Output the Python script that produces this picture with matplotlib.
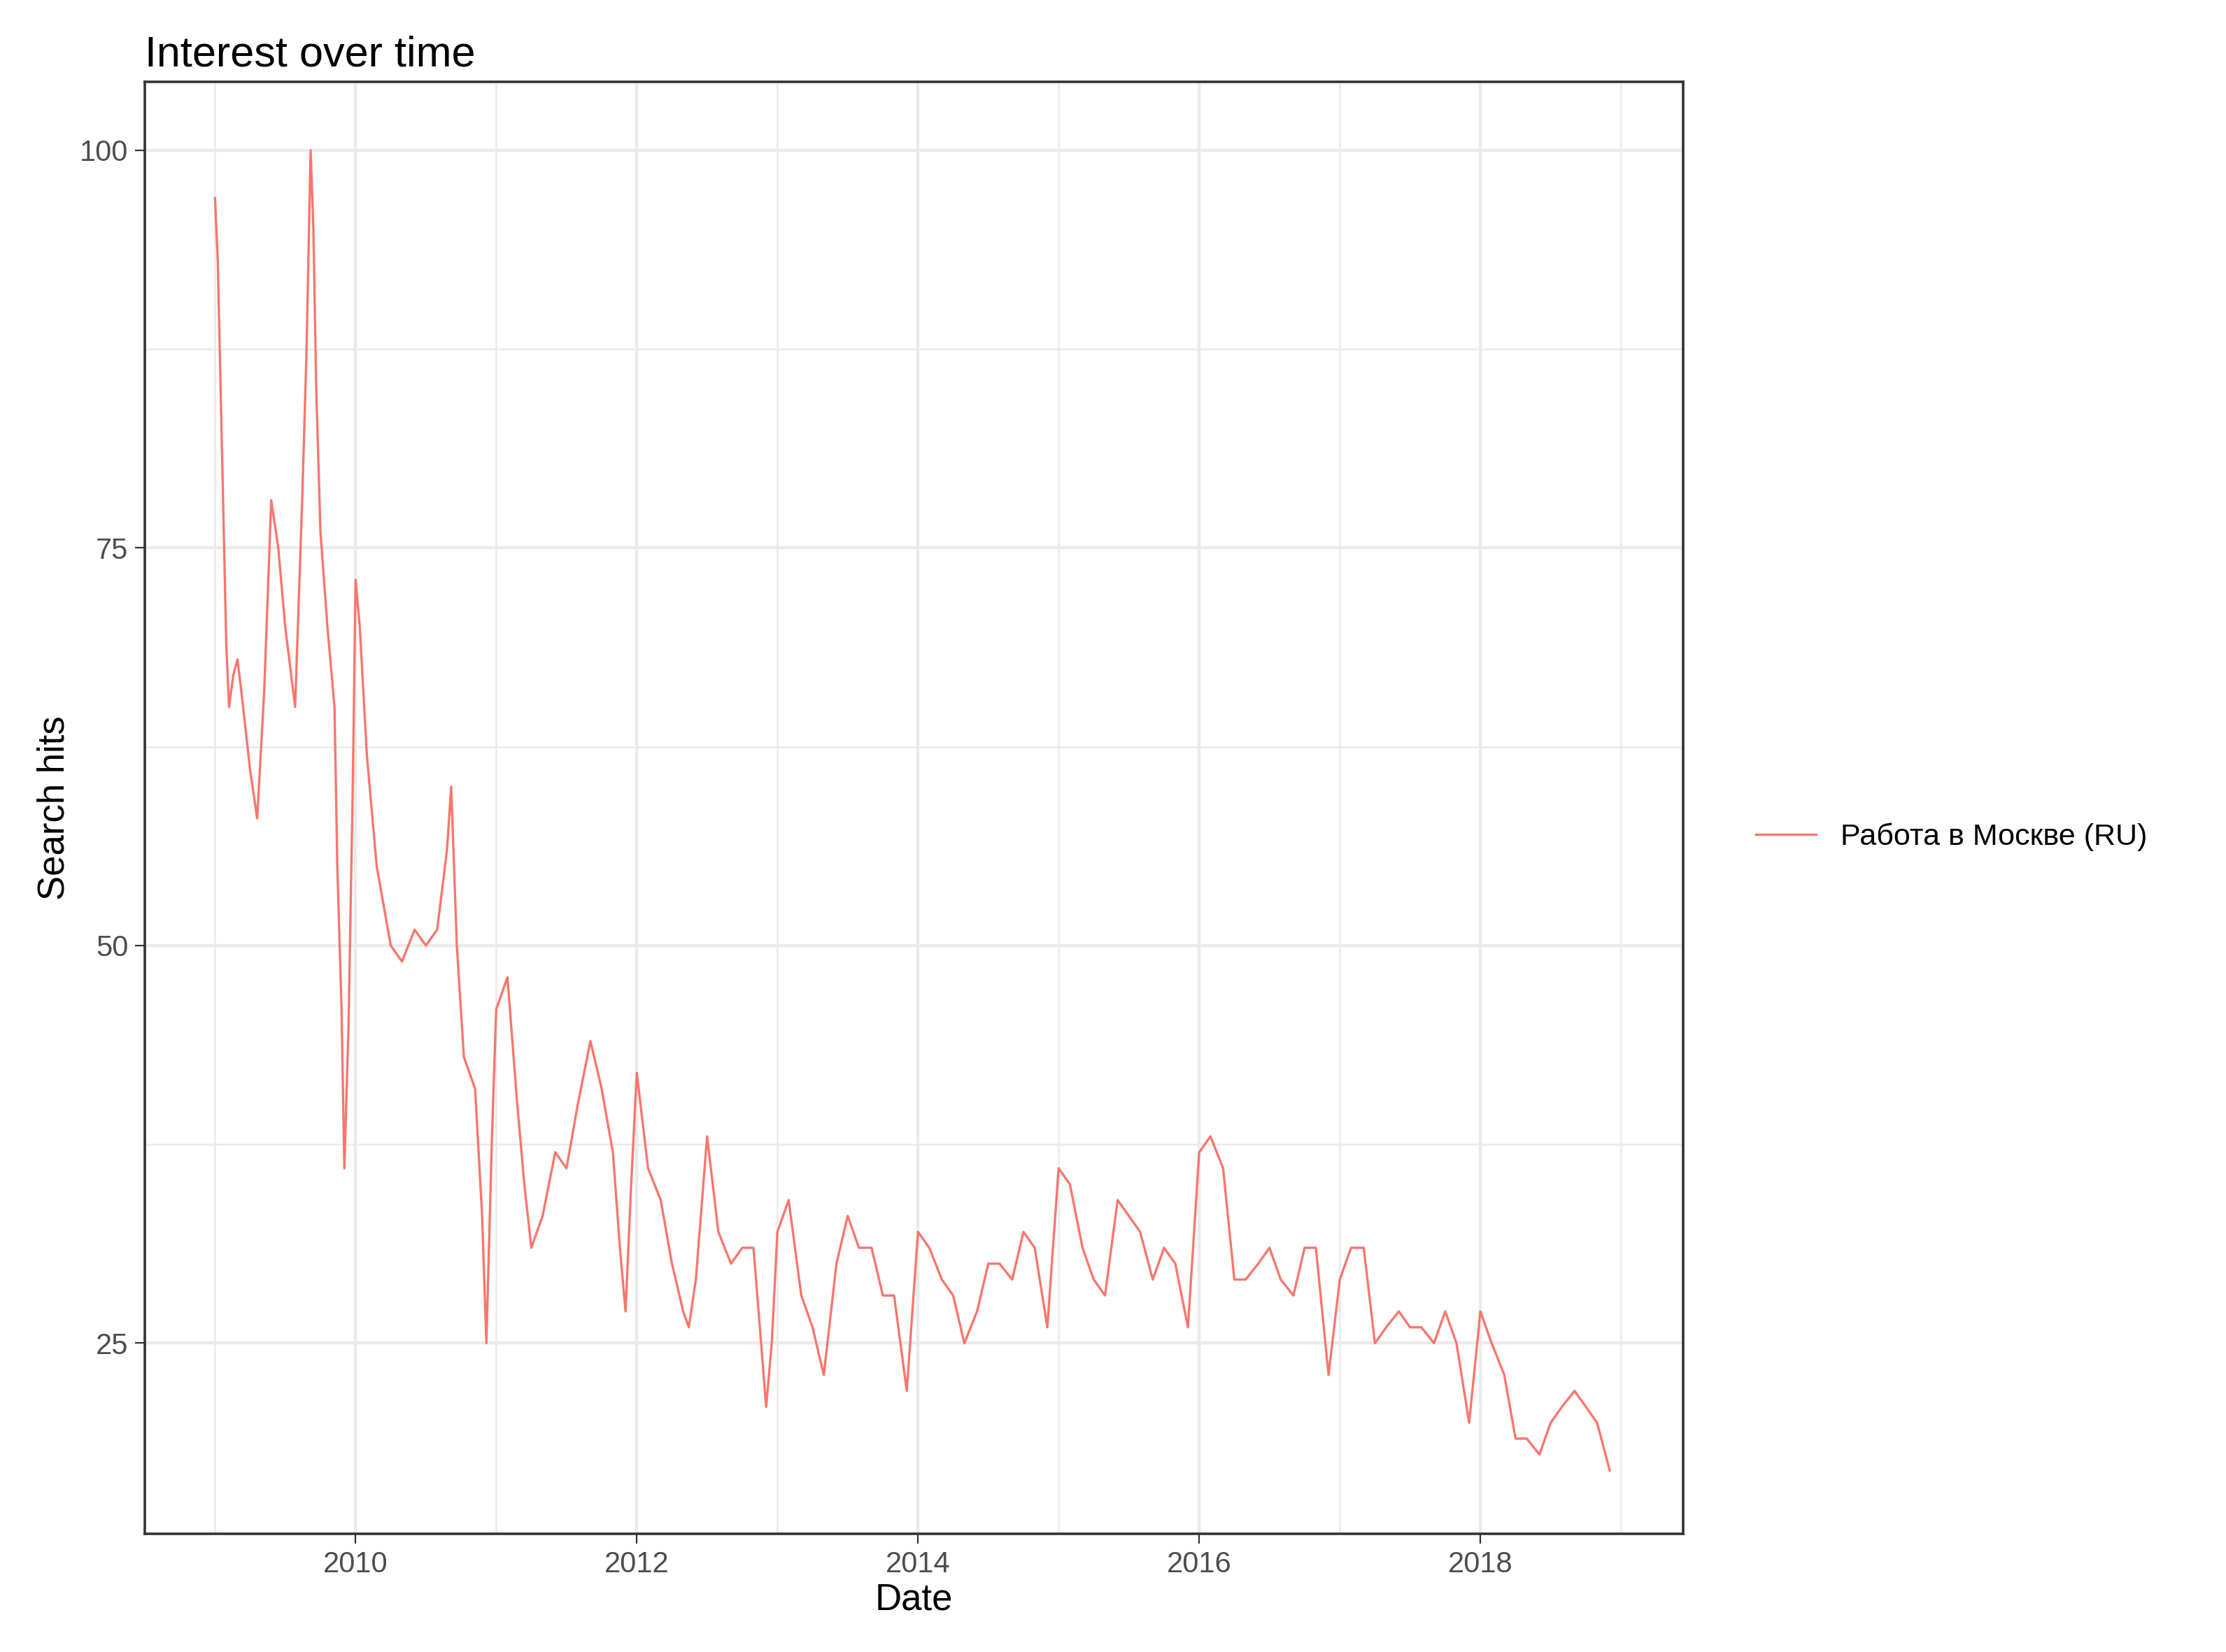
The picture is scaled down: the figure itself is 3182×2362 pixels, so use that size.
import matplotlib
matplotlib.use("Agg")
import matplotlib.pyplot as plt
import numpy as np

plt.rcParams['font.family'] = ['Liberation Sans', 'DejaVu Sans']

# decimal year, search hits
years = [2009.0, 2009.02, 2009.04, 2009.06, 2009.08, 2009.1, 2009.13, 2009.16, 2009.2, 2009.25,
         2009.3, 2009.35, 2009.4, 2009.45, 2009.5, 2009.57, 2009.62, 2009.65, 2009.68, 2009.7,
         2009.72, 2009.75, 2009.8, 2009.85, 2009.87, 2009.9, 2009.92, 2009.95, 2009.98, 2010.0,
         2010.03, 2010.08, 2010.15, 2010.25, 2010.33, 2010.42, 2010.5, 2010.58, 2010.65, 2010.68,
         2010.72, 2010.77, 2010.85, 2010.9, 2010.93, 2010.97, 2011.0, 2011.08, 2011.15, 2011.2,
         2011.25, 2011.33, 2011.42, 2011.5, 2011.58, 2011.67, 2011.75, 2011.83, 2011.88, 2011.92,
         2011.96, 2012.0, 2012.08, 2012.17, 2012.25, 2012.33, 2012.37, 2012.42, 2012.5, 2012.58,
         2012.67, 2012.75, 2012.83, 2012.92, 2012.96, 2013.0, 2013.08, 2013.17, 2013.25, 2013.33,
         2013.42, 2013.5, 2013.58, 2013.67, 2013.75, 2013.83, 2013.92, 2014.0, 2014.08, 2014.17,
         2014.25, 2014.33, 2014.42, 2014.5, 2014.58, 2014.67, 2014.75, 2014.83, 2014.92, 2015.0,
         2015.08, 2015.17, 2015.25, 2015.33, 2015.42, 2015.5, 2015.58, 2015.67, 2015.75, 2015.83,
         2015.92, 2016.0, 2016.08, 2016.17, 2016.25, 2016.33, 2016.42, 2016.5, 2016.58, 2016.67,
         2016.75, 2016.83, 2016.92, 2017.0, 2017.08, 2017.17, 2017.25, 2017.33, 2017.42, 2017.5,
         2017.58, 2017.67, 2017.75, 2017.83, 2017.92, 2018.0, 2018.08, 2018.17, 2018.25, 2018.33,
         2018.42, 2018.5, 2018.58, 2018.67, 2018.75, 2018.83, 2018.92]
hits = [97, 93, 85, 77, 69, 65, 67, 68, 65, 61,
        58, 66, 78, 75, 70, 65, 78, 87, 100, 95,
        85, 76, 70, 65, 55, 46, 36, 45, 60, 73,
        70, 62, 55, 50, 49, 51, 50, 51, 56, 60,
        50, 43, 41, 33, 25, 38, 46, 48, 40, 35,
        31, 33, 37, 36, 40, 44, 41, 37, 31, 27,
        35, 42, 36, 34, 30, 27, 26, 29, 38, 32,
        30, 31, 31, 21, 25, 32, 34, 28, 26, 23,
        30, 33, 31, 31, 28, 28, 22, 32, 31, 29,
        28, 25, 27, 30, 30, 29, 32, 31, 26, 36,
        35, 31, 29, 28, 34, 33, 32, 29, 31, 30,
        26, 37, 38, 36, 29, 29, 30, 31, 29, 28,
        31, 31, 23, 29, 31, 31, 25, 26, 27, 26,
        26, 25, 27, 25, 20, 27, 25, 23, 19, 19,
        18, 20, 21, 22, 21, 20, 17]
label = "Работа в Москве (RU)"

fig = plt.figure(figsize=(15.91, 11.81), dpi=200)
ax = fig.add_axes([0.065, 0.0714, 0.691, 0.879])
ax.plot(years, hits, color="#F8766D", lw=1.2, label=label)

ax.set_xlim(2008.5, 2019.44)
ax.set_ylim(13, 104.3)
ax.set_xticks([2010, 2012, 2014, 2016, 2018])
ax.set_xticks(np.arange(2009, 2020, 2), minor=True)
ax.set_yticks([25, 50, 75, 100])
ax.set_yticks([37.5, 62.5, 87.5], minor=True)
ax.grid(True, which="major", color="#EBEBEB", lw=1.6)
ax.grid(True, which="minor", color="#EBEBEB", lw=0.9)
ax.tick_params(which="minor", length=0)
ax.tick_params(which="major", labelsize=15, colors="#4D4D4D", length=5)
ax.tick_params(which="major", color="#333333")
for s in ax.spines.values():
    s.set_color("#333333")
    s.set_linewidth(1.3)
ax.set_xlabel("Date", fontsize=19, labelpad=2)
ax.set_ylabel("Search hits", fontsize=19)
ax.set_title("Interest over time", fontsize=22, loc="left", x=0.0, pad=8)
ax.legend(loc="center left", bbox_to_anchor=(1.03, 0.48), frameon=False,
          fontsize=15.5, handlelength=2)
fig.savefig("out.png")
